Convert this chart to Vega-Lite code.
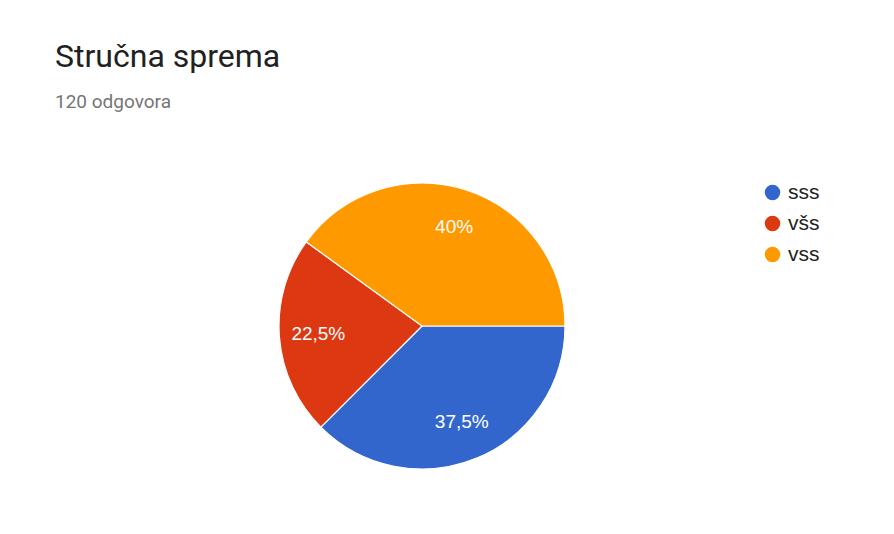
{
  "$schema": "https://vega.github.io/schema/vega-lite/v6.json",
  "width": 286,
  "height": 286,
  "autosize": {"type": "none"},
  "padding": {"left": 279, "top": 183, "right": 329, "bottom": 65},
  "background": "white",
  "title": {
    "text": "Stručna sprema",
    "subtitle": "120 odgovora",
    "anchor": "start",
    "frame": "group",
    "dx": -224,
    "offset": 68,
    "font": "Roboto",
    "fontSize": 32,
    "fontWeight": "normal",
    "color": "#212121",
    "subtitleFont": "Roboto",
    "subtitleFontSize": 19,
    "subtitleColor": "#757575",
    "subtitlePadding": 19
  },
  "data": {
    "values": [
      {"kategorija": "sss", "procenat": 37.5, "oznaka": "37,5%", "red": 1},
      {"kategorija": "všs", "procenat": 22.5, "oznaka": "22,5%", "red": 2},
      {"kategorija": "vss", "procenat": 40, "oznaka": "40%", "red": 3}
    ]
  },
  "encoding": {
    "theta": {"field": "procenat", "type": "quantitative", "stack": true, "scale": {"range": [1.5707963, 7.8539816]}},
    "order": {"field": "red", "type": "quantitative", "sort": "ascending"}
  },
  "layer": [
    {
      "mark": {"type": "arc", "outerRadius": 143, "stroke": "white", "strokeWidth": 1.2},
      "encoding": {
        "color": {
          "field": "kategorija",
          "type": "nominal",
          "scale": {"domain": ["sss", "všs", "vss"], "range": ["#3366cc", "#dc3912", "#ff9900"]},
          "legend": {
            "title": null,
            "orient": "none",
            "legendX": 483,
            "legendY": -1,
            "symbolType": "circle",
            "symbolSize": 240,
            "symbolStrokeWidth": 0,
            "labelFont": "Liberation Sans",
            "labelFontSize": 21,
            "labelColor": "#222222",
            "rowPadding": 9,
            "labelOffset": 5
          }
        }
      }
    },
    {
      "mark": {"type": "text", "radius": 104, "font": "Liberation Sans", "fontSize": 19, "fill": "white"},
      "encoding": {
        "text": {"field": "oznaka", "type": "nominal"}
      }
    }
  ],
  "config": {"view": {"stroke": null}}
}
